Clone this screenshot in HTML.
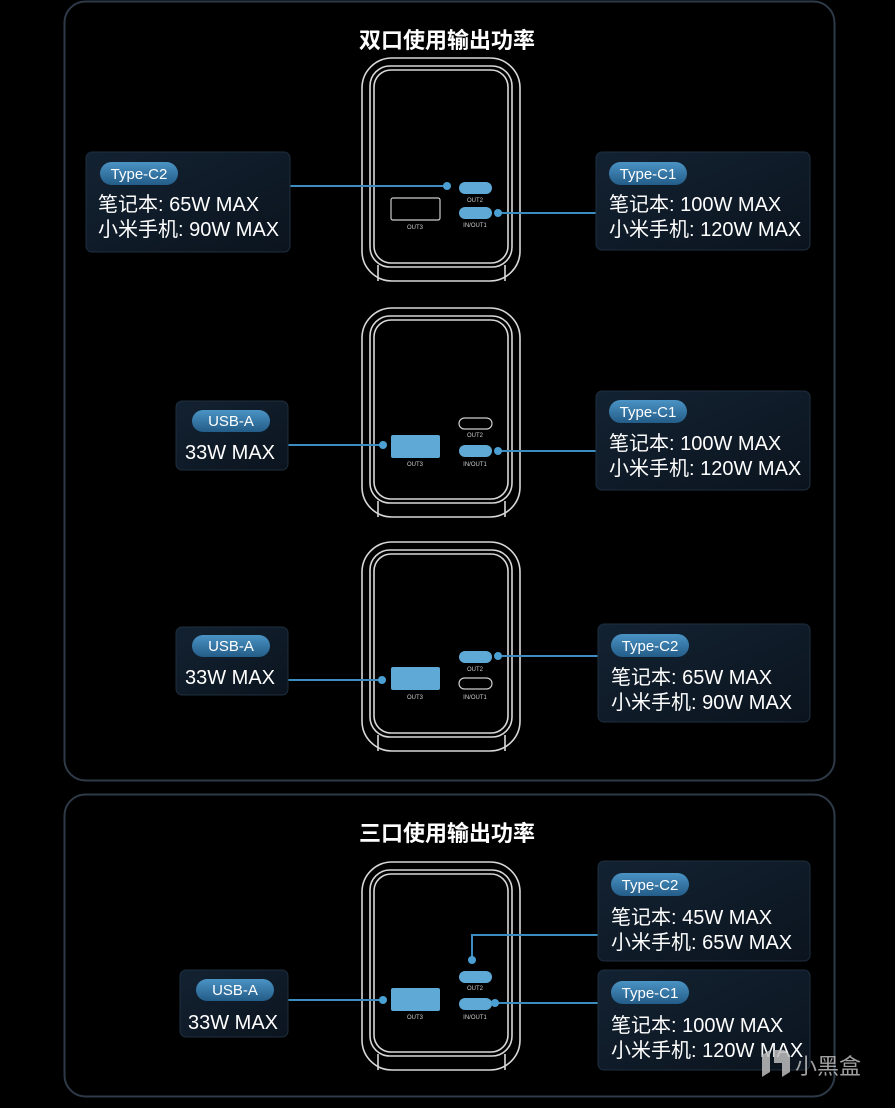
<!DOCTYPE html>
<html><head><meta charset="utf-8"><style>
html,body{margin:0;padding:0;background:#000;}
svg{display:block;font-family:"Liberation Sans","Noto Sans CJK SC",sans-serif;}
</style></head><body>
<svg width="895" height="1108" viewBox="0 0 895 1108" xmlns="http://www.w3.org/2000/svg">
<defs>
<linearGradient id="bx" x1="0" y1="0" x2="1" y2="1"><stop offset="0" stop-color="#132232"/><stop offset="1" stop-color="#0b141e"/></linearGradient>
<linearGradient id="pl" x1="0" y1="0" x2="0" y2="1"><stop offset="0" stop-color="#4a93c4"/><stop offset="1" stop-color="#245c88"/></linearGradient>
</defs>
<rect width="895" height="1108" fill="#000"/>
<rect x="64.5" y="1.5" width="770" height="779" rx="21" fill="none" stroke="#2e3a48" stroke-width="2"/>
<rect x="64.5" y="794.5" width="770" height="302" rx="21" fill="none" stroke="#2e3a48" stroke-width="2"/>
<text x="447" y="48" text-anchor="middle" fill="#fff" font-size="22" font-weight="bold">双口使用输出功率</text>
<text x="447" y="841" text-anchor="middle" fill="#fff" font-size="22" font-weight="bold">三口使用输出功率</text>

<g fill="none" stroke="#d8d8d8" stroke-width="1.6">
 <rect x="362" y="58" width="158" height="223" rx="30"/>
 <rect x="370" y="66" width="142" height="201" rx="20"/><rect x="374" y="70" width="134" height="193" rx="17"/>
 <path d="M378 265 V281 M505 265 V281"/>
 <rect x="362" y="308" width="158" height="209" rx="30"/>
 <rect x="370" y="316" width="142" height="187" rx="20"/><rect x="374" y="320" width="134" height="179" rx="17"/>
 <path d="M378 501 V517 M505 501 V517"/>
 <rect x="362" y="542" width="158" height="209" rx="30"/>
 <rect x="370" y="550" width="142" height="187" rx="20"/><rect x="374" y="554" width="134" height="179" rx="17"/>
 <path d="M378 735 V751 M505 735 V751"/>
 <rect x="362" y="862" width="158" height="208" rx="30"/>
 <rect x="370" y="870" width="142" height="186" rx="20"/><rect x="374" y="874" width="134" height="178" rx="17"/>
 <path d="M378 1054 V1070 M505 1054 V1070"/>
</g>
<g font-size="6" fill="#ccc" text-anchor="middle">
 <rect x="391" y="198" width="49" height="22" rx="2" fill="none" stroke="#ccc" stroke-width="1.2"/>
 <rect x="459" y="182" width="33" height="12" rx="6" fill="#5fa9d6"/>
 <rect x="459" y="207" width="33" height="12" rx="6" fill="#5fa9d6"/>
 <text x="415" y="229">OUT3</text><text x="475" y="202">OUT2</text><text x="475" y="227">IN/OUT1</text>

 <rect x="391" y="435" width="49" height="23" rx="2" fill="#5fa9d6"/>
 <rect x="459" y="418" width="33" height="11" rx="5.5" fill="none" stroke="#ccc" stroke-width="1.2"/>
 <rect x="459" y="445" width="33" height="12" rx="6" fill="#5fa9d6"/>
 <text x="415" y="466">OUT3</text><text x="475" y="437">OUT2</text><text x="475" y="466">IN/OUT1</text>

 <rect x="391" y="667" width="49" height="23" rx="2" fill="#5fa9d6"/>
 <rect x="459" y="651" width="33" height="12" rx="6" fill="#5fa9d6"/>
 <rect x="459" y="678" width="33" height="11" rx="5.5" fill="none" stroke="#ccc" stroke-width="1.2"/>
 <text x="415" y="699">OUT3</text><text x="475" y="671">OUT2</text><text x="475" y="699">IN/OUT1</text>

 <rect x="391" y="988" width="49" height="23" rx="2" fill="#5fa9d6"/>
 <rect x="459" y="971" width="33" height="12" rx="6" fill="#5fa9d6"/>
 <rect x="459" y="998" width="33" height="12" rx="6" fill="#5fa9d6"/>
 <text x="415" y="1019">OUT3</text><text x="475" y="990">OUT2</text><text x="475" y="1019">IN/OUT1</text>
</g>
<g stroke="#3d8cbf" stroke-width="2" fill="none">
 <path d="M290 186 H447"/><path d="M498 213 H596"/>
 <path d="M288 445 H383"/><path d="M498 451 H596"/>
 <path d="M288 680 H382"/><path d="M498 656 H598"/>
 <path d="M288 1000 H383"/><path d="M472 960 V935 H598"/><path d="M495 1003 H598"/>
</g>
<g fill="#4c9fd2">
 <circle cx="447" cy="186" r="4"/><circle cx="498" cy="213" r="4"/>
 <circle cx="383" cy="445" r="4"/><circle cx="498" cy="451" r="4"/>
 <circle cx="382" cy="680" r="4"/><circle cx="498" cy="656" r="4"/>
 <circle cx="383" cy="1000" r="4"/><circle cx="472" cy="960" r="4"/><circle cx="495" cy="1003" r="4"/>
</g>
<g stroke="#1e2e3e" stroke-width="1" fill="url(#bx)">
 <rect x="86" y="152" width="204" height="100" rx="6"/>
 <rect x="596" y="152" width="214" height="98" rx="6"/>
 <rect x="176" y="401" width="112" height="69" rx="6"/>
 <rect x="596" y="391" width="214" height="99" rx="6"/>
 <rect x="176" y="627" width="112" height="68" rx="6"/>
 <rect x="598" y="624" width="212" height="98" rx="6"/>
 <rect x="180" y="970" width="108" height="67" rx="6"/>
 <rect x="598" y="861" width="212" height="100" rx="6"/>
 <rect x="598" y="970" width="212" height="100" rx="6"/>
</g>
<g fill="url(#pl)">
 <rect x="100" y="162" width="78" height="23" rx="11.5"/>
 <rect x="609" y="162" width="78" height="23" rx="11.5"/>
 <rect x="192" y="410" width="78" height="22" rx="11"/>
 <rect x="609" y="400" width="78" height="23" rx="11.5"/>
 <rect x="192" y="635" width="78" height="22" rx="11"/>
 <rect x="611" y="634" width="78" height="23" rx="11.5"/>
 <rect x="196" y="979" width="78" height="22" rx="11"/>
 <rect x="611" y="873" width="78" height="23" rx="11.5"/>
 <rect x="611" y="981" width="78" height="23" rx="11.5"/>
</g>
<g fill="#fff" font-size="15" text-anchor="middle">
 <text x="139" y="179">Type-C2</text><text x="648" y="179">Type-C1</text>
 <text x="231" y="426">USB-A</text><text x="648" y="417">Type-C1</text>
 <text x="231" y="651">USB-A</text><text x="650" y="651">Type-C2</text>
 <text x="235" y="995">USB-A</text><text x="650" y="890">Type-C2</text><text x="650" y="998">Type-C1</text>
</g>
<g fill="#fff" font-size="20">
 <text x="98" y="211">笔记本: 65W MAX</text><text x="98" y="236">小米手机: 90W MAX</text>
 <text x="609" y="211">笔记本: 100W MAX</text><text x="609" y="236">小米手机: 120W MAX</text>
 <text x="185" y="459">33W MAX</text>
 <text x="609" y="450">笔记本: 100W MAX</text><text x="609" y="475">小米手机: 120W MAX</text>
 <text x="185" y="684">33W MAX</text>
 <text x="611" y="684">笔记本: 65W MAX</text><text x="611" y="709">小米手机: 90W MAX</text>
 <text x="188" y="1029">33W MAX</text>
 <text x="611" y="924">笔记本: 45W MAX</text><text x="611" y="949">小米手机: 65W MAX</text>
 <text x="611" y="1032">笔记本: 100W MAX</text><text x="611" y="1057">小米手机: 120W MAX</text>
</g>
<g fill="#bdbdbd" opacity="0.85">
 <path d="M762 1055 l8 -5 v22 l-8 5z M774 1050 h10 l6 5 v17 l-8 5 v-14 h-8z"/>
 <text x="795" y="1074" font-size="22">小黑盒</text>
</g>
</svg>
</body></html>
